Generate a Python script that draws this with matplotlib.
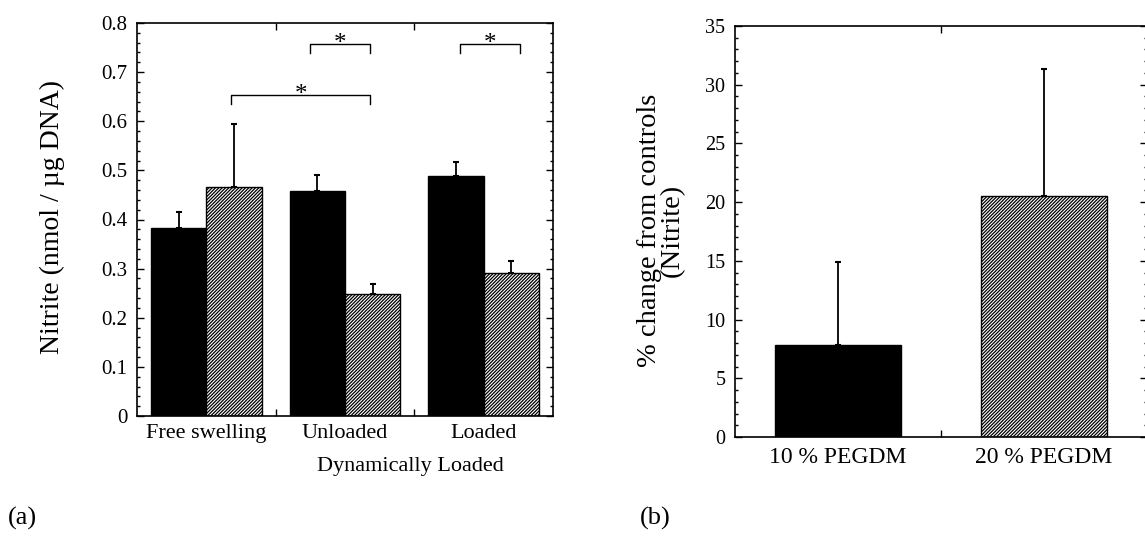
import numpy as np
import matplotlib
matplotlib.use('Agg')
from matplotlib import pyplot as plt
from matplotlib.ticker import MultipleLocator

plt.rcParams['font.family'] = ['Liberation Serif', 'DejaVu Serif']
plt.rcParams['hatch.linewidth'] = 0.9

# panel (a)
groups = ['Free swelling', 'Unloaded', 'Loaded']
black_vals = [0.383, 0.459, 0.489]
black_err = [0.032, 0.031, 0.029]
hatch_vals = [0.466, 0.248, 0.292]
hatch_err = [0.128, 0.021, 0.024]

# significance brackets: (x start, x end, height)
brackets = [(0.68, 1.68, 0.653), (1.25, 1.68, 0.757), (2.33, 2.76, 0.757)]

# panel (b)
conc = ['10 % PEGDM', '20 % PEGDM']
change_vals = [7.8, 20.5]
change_err = [7.1, 10.8]

W, H = 1145, 540
HATCH = '//////////'


def fig_x(px):
    return px / W


def fig_y(py):
    return 1 - py / H


def style_axes(ax, major, minor, labelsize):
    ax.tick_params(which='both', direction='in', top=True, right=True,
                   labelsize=labelsize, width=1.0)
    ax.tick_params(which='major', length=5)
    ax.tick_params(which='minor', length=2.5)
    ax.yaxis.set_major_locator(MultipleLocator(major))
    ax.yaxis.set_minor_locator(MultipleLocator(minor))
    ax.tick_params(axis='y', pad=7)
    for s in ax.spines.values():
        s.set_linewidth(1.2)


def main():
    fig = plt.figure(figsize=(W / 100, H / 100), dpi=100)

    # ---- (a)
    ax = fig.add_axes([fig_x(137), fig_y(416), 416 / W, 393 / H])
    x = np.arange(len(groups))
    ekw = dict(elinewidth=1.3, capthick=1.5, ecolor='black')
    ax.bar(x + 0.3, black_vals, 0.4, color='black', edgecolor='black',
           yerr=[np.zeros(3), black_err], capsize=2.5, error_kw=ekw)
    ax.bar(x + 0.7, hatch_vals, 0.4, color='white', edgecolor='black',
           hatch=HATCH, linewidth=1.0,
           yerr=[np.zeros(3), hatch_err], capsize=2.5, error_kw=ekw)

    for x0, x1, yb in brackets:
        ax.plot([x0, x0, x1, x1], [yb - 0.018, yb, yb, yb - 0.018],
                color='black', lw=1.0)
        ax.text((x0 + x1) / 2, yb - 0.012, '*', ha='center', va='baseline',
                fontsize=18)

    ax.set_xlim(0, 3)
    ax.set_ylim(0, 0.8)
    style_axes(ax, 0.1, 0.02, 15)
    ax.set_yticks(np.arange(0, 0.81, 0.1))
    ax.set_yticklabels(['0'] + ['%.1f' % v for v in np.arange(0.1, 0.81, 0.1)])
    ax.set_xticks([1, 2])
    ax.set_xticklabels(['', ''])
    ax.set_xticks(x + 0.5, groups, minor=True)
    ax.tick_params(axis='x', which='minor', length=0, pad=6, labelsize=16)

    fig.text(fig_x(52), fig_y(217), 'Nitrite (nmol / µg DNA)', rotation=90,
             ha='center', va='center', fontsize=20)
    fig.text(fig_x(410), fig_y(467), 'Dynamically Loaded', ha='center',
             va='center', fontsize=16)
    fig.text(fig_x(8), fig_y(518), '(a)', ha='left', va='center', fontsize=19)

    # ---- (b)
    bx = fig.add_axes([fig_x(735), fig_y(437), 412 / W, 411 / H])
    xb = np.arange(len(conc)) + 0.5
    bx.bar(xb[0], change_vals[0], 0.61, color='black', edgecolor='black',
           yerr=[[0], [change_err[0]]], capsize=2.5, error_kw=ekw)
    bx.bar(xb[1], change_vals[1], 0.61, color='white', edgecolor='black',
           hatch=HATCH, linewidth=1.0,
           yerr=[[0], [change_err[1]]], capsize=2.5, error_kw=ekw)
    bx.set_xlim(0, 2)
    bx.set_ylim(0, 35)
    style_axes(bx, 5, 1, 14.5)
    bx.set_xticks([1])
    bx.set_xticklabels([''])
    bx.set_xticks(xb, conc, minor=True)
    bx.tick_params(axis='x', which='minor', length=0, pad=7, labelsize=17)

    fig.text(fig_x(661), fig_y(230), '% change from controls\n(Nitrite)',
             rotation=90, ha='center', va='center', fontsize=20.5,
             linespacing=0.85, multialignment='center')
    fig.text(fig_x(640), fig_y(518), '(b)', ha='left', va='center', fontsize=19)

    fig.savefig('out.png', dpi=100)
    plt.close(fig)


if __name__ == '__main__':
    main()
